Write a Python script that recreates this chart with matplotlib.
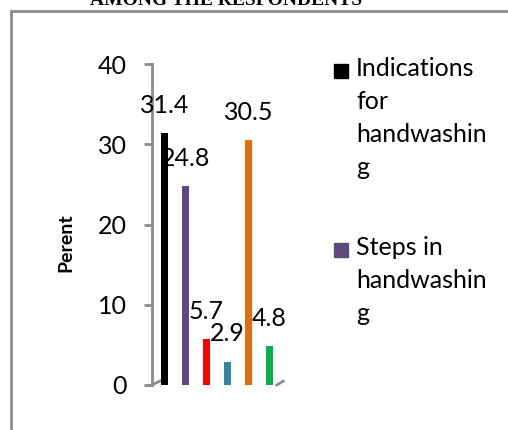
import numpy as np
import matplotlib.pyplot as plt
from matplotlib.patches import Rectangle

# DATA
categories = ["Indications for handwashing", "Steps in handwashing", "C3", "C4", "C5", "C6"]
values = [31.4, 24.8, 5.7, 2.9, 30.5, 4.8]
colors = ["#000000", "#604A7B", "#FF0000", "#31859C", "#E46C0A", "#00B050"]
legend_labels = ["Indications\nfor\nhandwashin\ng", "Steps in\nhandwashin\ng"]
yticks = [0, 10, 20, 30, 40]

plt.rcParams["font.family"] = ["Lato", "DejaVu Sans"]

W, H = 508, 430
fig = plt.figure(figsize=(W / 100, H / 100), dpi=100)

# frame border (cropped box of the document)
fig.add_artist(Rectangle((11 / W, -0.05), 1.2, (H - 11) / H + 0.05,
                         transform=fig.transFigure, fill=False,
                         edgecolor="#8c8c8c", linewidth=2))

# cropped title line
fig.text(226 / W, (H - 5) / H, "AMONG THE RESPONDENTS", ha="center", va="baseline",
         family="Liberation Serif", fontweight="bold", fontsize=14)

ax = fig.add_axes([152 / W, (H - 385) / H, 130 / W, (385 - 64) / H])
x = np.arange(len(values))
ax.bar(x, values, width=0.34, color=colors, edgecolor="none", zorder=3)

for xi, v in zip(x, values):
    ax.annotate(str(v), (xi, v), xytext=(0, 20), textcoords="offset points",
                ha="center", va="center", fontsize=18)

ax.set_xlim(-0.6, 5.6)
ax.set_ylim(0, 40)
ax.set_yticks(yticks)
ax.set_xticks([])
for s in ["top", "right", "bottom"]:
    ax.spines[s].set_visible(False)
ax.spines["left"].set_color("#8c8c8c")
ax.spines["left"].set_linewidth(2)
ax.tick_params(axis="y", length=6, width=2, color="#8c8c8c", pad=12, labelsize=18)
ax.set_facecolor("none")

# small 3D floor corners
ax.plot([0, 0.06], [0, 0.012], transform=ax.transAxes, color="#8c8c8c", lw=2, clip_on=False)
ax.plot([0.96, 1.01], [0, 0.012], transform=ax.transAxes, color="#8c8c8c", lw=2, clip_on=False)

fig.text(66 / W, (H - 243) / H, "Perent", rotation=90, ha="center", va="center",
         fontweight="bold", fontsize=14)

# legend
leg_y = [71, 250]
for lab, col, yy in zip(legend_labels, colors[:2], leg_y):
    fig.add_artist(Rectangle((334 / W, (H - yy - 7) / H), 14 / W, 14 / H,
                             transform=fig.transFigure, color=col))
    fig.text(356 / W, (H - yy + 14) / H, lab, ha="left", va="top",
             fontsize=18, linespacing=1.52)

fig.savefig("out.png", dpi=100)
